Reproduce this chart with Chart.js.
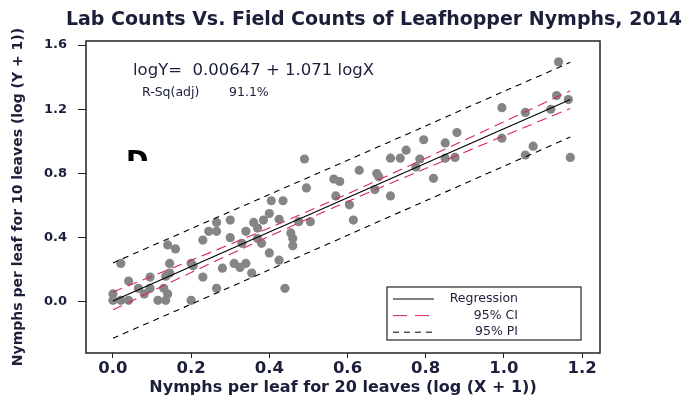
<!DOCTYPE html>
<html>
<head>
<meta charset="utf-8">
<script src="https://cdn.jsdelivr.net/npm/chart.js@4.4.1/dist/chart.umd.min.js"></script>
<style>
  html, body { margin: 0; padding: 0; background: #fff; }
  #wrap { width: 690px; height: 398px; }
</style>
</head>
<body>
<div id="wrap"><canvas id="chart"></canvas></div>
<script>
// scatter points, log(X+1) for 20 leaves vs log(Y+1) for 10 leaves
const fieldX = [0.00, 0.00, 0.02, 0.02, 0.04, 0.04, 0.065, 0.08, 0.095, 0.095,
    0.115, 0.135, 0.13, 0.14, 0.135, 0.145, 0.145, 0.14, 0.16, 0.20,
    0.20, 0.205, 0.23, 0.23, 0.245, 0.265, 0.265, 0.265, 0.28, 0.30,
    0.30, 0.31, 0.325, 0.33, 0.34, 0.34, 0.355, 0.36, 0.37, 0.37,
    0.38, 0.385, 0.40, 0.40, 0.405, 0.425, 0.425, 0.435, 0.44, 0.455,
    0.46, 0.46, 0.475, 0.505, 0.495, 0.49, 0.565, 0.58, 0.57, 0.605,
    0.615, 0.67, 0.71, 0.63, 0.675, 0.68, 0.71, 0.735, 0.75, 0.775,
    0.785, 0.795, 0.82, 0.85, 0.85, 0.875, 0.88, 0.995, 0.995, 1.055,
    1.055, 1.075, 1.12, 1.135, 1.14, 1.165, 1.17];
const labY = [0.05, 0.01, 0.01, 0.24, 0.01, 0.13, 0.085, 0.05, 0.085, 0.155,
    0.01, 0.01, 0.085, 0.05, 0.16, 0.18, 0.24, 0.355, 0.33, 0.01,
    0.24, 0.225, 0.155, 0.385, 0.44, 0.44, 0.495, 0.085, 0.21, 0.51,
    0.40, 0.24, 0.215, 0.365, 0.24, 0.44, 0.18, 0.495, 0.46, 0.395,
    0.365, 0.51, 0.55, 0.305, 0.63, 0.26, 0.515, 0.63, 0.085, 0.43,
    0.395, 0.35, 0.50, 0.50, 0.71, 0.89, 0.765, 0.75, 0.66, 0.605,
    0.51, 0.70, 0.66, 0.82, 0.80, 0.78, 0.895, 0.895, 0.945, 0.84,
    0.89, 1.01, 0.77, 0.99, 0.895, 0.90, 1.055, 1.21, 1.02, 1.18,
    0.915, 0.97, 1.20, 1.285, 1.495, 1.26, 0.90];

// fitted line and bands, read at these x positions
const bandX  = [0, 0.2, 0.4, 0.6, 0.8, 1.0, 1.17];
const regY   = [0.0065, 0.221, 0.435, 0.649, 0.863, 1.078, 1.26];
const ciUp   = [0.062, 0.259, 0.461, 0.673, 0.895, 1.122, 1.315];
const ciLow  = [-0.049, 0.183, 0.409, 0.625, 0.831, 1.034, 1.205];
const piUp   = [0.243, 0.456, 0.669, 0.882, 1.096, 1.311, 1.492];
const piLow  = [-0.226, -0.014, 0.200, 0.415, 0.630, 0.845, 1.027];

const xTicks = [0.0, 0.2, 0.4, 0.6, 0.8, 1.0, 1.2];
const yTicks = [0.0, 0.4, 0.8, 1.2, 1.6];

const legendItems = [
    { label: "Regression", color: "#000000", dash: [] },
    { label: "95% CI", color: "#d8285a", dash: [14, 8] },
    { label: "95% PI", color: "#000000", dash: [6, 5] }
];

const INK = "#1b1f3a";
const FONT = "'DejaVu Sans', Verdana, sans-serif";

function pairs(xs, ys) {
    return xs.map((x, i) => ({ x: x, y: ys[i] }));
}

function lineSet(label, ys, color, dash, order) {
    return {
        type: "line",
        label: label,
        data: pairs(bandX, ys),
        borderColor: color,
        borderWidth: 1.1,
        borderDash: dash,
        pointRadius: 0,
        tension: 0.3,
        fill: false,
        order: order
    };
}

// frame, title, equation text and legend box
const decor = {
    id: "decor",
    afterDraw(chart) {
        const ctx = chart.ctx;
        const a = chart.chartArea;
        ctx.save();

        ctx.strokeStyle = "#222";
        ctx.lineWidth = 1.5;
        ctx.strokeRect(a.left, a.top, a.right - a.left, a.bottom - a.top);

        ctx.fillStyle = INK;
        ctx.textBaseline = "middle";
        ctx.textAlign = "center";
        ctx.font = "bold 19px " + FONT;
        ctx.fillText("Lab Counts Vs. Field Counts of Leafhopper Nymphs, 2014", 374, 20);

        ctx.textAlign = "left";
        ctx.font = "16.5px " + FONT;
        ctx.fillText("logY=  0.00647 + 1.071 logX", 133, 71);
        ctx.font = "12.5px " + FONT;
        ctx.fillText("R-Sq(adj)", 142, 93);
        ctx.fillText("91.1%", 229, 93);

        // the "D" panel letter is cut off at its lower half
        ctx.save();
        ctx.beginPath();
        ctx.rect(110, 140, 60, 21);
        ctx.clip();
        ctx.fillStyle = "#000";
        ctx.textBaseline = "alphabetic";
        ctx.font = "bold 27px " + FONT;
        ctx.fillText("D", 126, 170);
        ctx.restore();

        // legend
        const lx = 387, ly = 287, lw = 194, lh = 53;
        ctx.fillStyle = "#fff";
        ctx.fillRect(lx, ly, lw, lh);
        ctx.strokeStyle = "#222";
        ctx.lineWidth = 1.2;
        ctx.strokeRect(lx, ly, lw, lh);
        ctx.font = "12.5px " + FONT;
        ctx.textAlign = "right";
        legendItems.forEach((it, i) => {
            const y = 299 + i * 16.6;
            ctx.strokeStyle = it.color;
            ctx.lineWidth = 1;
            ctx.setLineDash(it.dash);
            ctx.beginPath();
            ctx.moveTo(393, y);
            ctx.lineTo(434, y);
            ctx.stroke();
            ctx.setLineDash([]);
            ctx.fillStyle = INK;
            ctx.fillText(it.label, 518, y);
        });

        ctx.restore();
    }
};

new Chart(document.getElementById("chart"), {
    data: {
        datasets: [
            lineSet("Regression", regY, "#000000", [], 1),
            lineSet("95% CI upper", ciUp, "#d8285a", [10, 6], 2),
            lineSet("95% CI lower", ciLow, "#d8285a", [10, 6], 2),
            lineSet("95% PI upper", piUp, "#000000", [6, 5], 3),
            lineSet("95% PI lower", piLow, "#000000", [6, 5], 3),
            {
                type: "scatter",
                label: "Observed",
                data: pairs(fieldX, labY),
                backgroundColor: "#858585",
                borderWidth: 0,
                pointRadius: 4.6,
                order: 4
            }
        ]
    },
    options: {
        responsive: true,
        maintainAspectRatio: false,
        animation: false,
        layout: { padding: { left: 0, right: 90, top: 41, bottom: 0 } },
        plugins: {
            legend: { display: false },
            tooltip: { enabled: false }
        },
        scales: {
            x: {
                type: "linear",
                min: -0.069,
                max: 1.246,
                afterBuildTicks: s => { s.ticks = xTicks.map(v => ({ value: v })); },
                afterFit: s => { s.height = 45; },
                grid: { drawOnChartArea: false, tickLength: 5, color: "#222" },
                border: { display: false },
                ticks: {
                    padding: 1,
                    color: INK,
                    font: { family: FONT, size: 16.5, weight: "bold" },
                    callback: v => v.toFixed(1)
                },
                title: {
                    display: true,
                    text: "Nymphs per leaf for 20 leaves (log (X + 1))",
                    color: INK,
                    font: { family: FONT, size: 16, weight: "bold" },
                    padding: { top: 0, bottom: 1 }
                }
            },
            y: {
                type: "linear",
                min: -0.318,
                max: 1.625,
                afterBuildTicks: s => { s.ticks = yTicks.map(v => ({ value: v })); },
                afterFit: s => { s.width = 86; },
                grid: { drawOnChartArea: false, tickLength: 8, color: "#222" },
                border: { display: false },
                ticks: {
                    padding: 11,
                    color: INK,
                    font: { family: FONT, size: 13, weight: "bold" },
                    callback: v => v.toFixed(1)
                },
                title: {
                    display: true,
                    text: "Nymphs per leaf for 10 leaves (log (Y + 1))",
                    color: INK,
                    font: { family: FONT, size: 14, weight: "bold" },
                    padding: { top: 10, bottom: 0 }
                }
            }
        }
    },
    plugins: [decor]
});
</script>
</body>
</html>
